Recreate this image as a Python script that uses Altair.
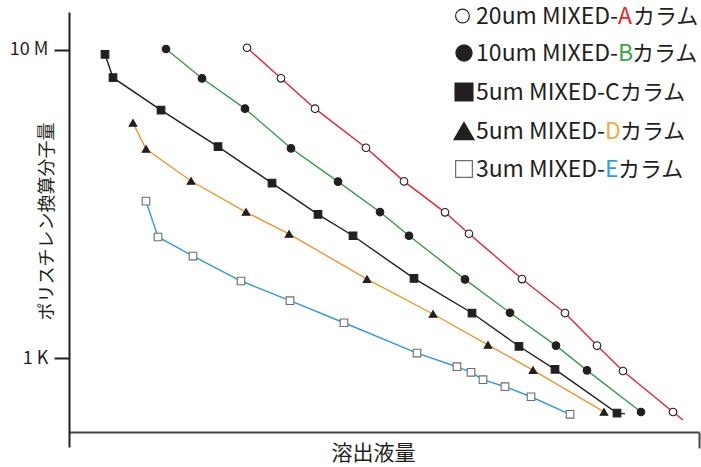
import altair as alt
import pandas as pd

# Calibration curves: elution volume (arbitrary units) vs polystyrene-equivalent molecular weight
a_vol = [17.8, 21.2, 24.6, 29.7, 33.5, 37.6, 40.0, 45.3, 49.6, 52.8, 55.4, 60.4]
a_mw = [1.07e7, 4.29e6, 1.73e6, 5.38e5, 1.97e5, 7.80e4, 4.11e4, 1.06e4, 3.84e3, 1.45e3, 678, 199]

b_vol = [9.7, 13.3, 17.6, 22.2, 26.9, 31.1, 34.0, 39.6, 44.1, 48.7, 51.8, 57.2]
b_mw = [1.03e7, 4.29e6, 1.73e6, 5.29e5, 1.95e5, 7.87e4, 3.87e4, 1.05e4, 3.87e3, 1.45e3, 692, 199]

c_vol = [3.6, 4.4, 9.2, 14.9, 20.3, 24.9, 28.4, 34.5, 40.3, 45.0, 48.6, 54.8]
c_mw = [8.80e6, 4.37e6, 1.66e6, 5.55e5, 1.87e5, 7.35e4, 3.87e4, 1.08e4, 3.84e3, 1.42e3, 713, 193]

d_vol = [6.4, 7.7, 12.2, 17.7, 22.0, 29.8, 36.4, 41.9, 46.4, 53.5]
d_mw = [1.13e6, 5.18e5, 1.99e5, 7.87e4, 4.08e4, 1.06e4, 3.73e3, 1.48e3, 698, 200]

e_vol = [7.7, 8.9, 12.4, 17.2, 22.1, 27.5, 34.8, 38.8, 40.2, 41.4, 43.6, 46.2, 50.1]
e_mw = [1.09e5, 3.73e4, 2.11e4, 1.0e4, 5.55e3, 2.87e3, 1.16e3, 771, 652, 523, 424, 314, 186]

# where the drawn curve runs on a little past the last standard
tails = {"A": (61.4, 157), "C": (55.6, 188)}

series = ["A", "B", "C", "D", "E"]
line_colors = ["#e3262b", "#3a9b48", "#231f20", "#f0952b", "#2e9cd8"]
marker_shapes = ["circle", "circle", "square", "triangle-up", "square"]
marker_fills = ["#ffffff", "#231f20", "#231f20", "#231f20", "#ffffff"]
marker_strokes = ["#231f20", "#231f20", "#231f20", "#231f20", "#6d6d6d"]

# legend rows
leg_prefix = ["20um MIXED-", "10um MIXED-", "5um MIXED-", "5um MIXED-", "3um MIXED-"]
leg_letter = ["A", "B", "C", "D", "E"]
leg_letter_color = ["#e8232a", "#3aa846", "#231f20", "#f4ac44", "#2a9ee0"]
leg_suffix = ["カラム"] * 5

FONT = "Noto Sans CJK JP"
INK = "#231f20"

pts = []
for s, vols, mws in zip(series, [a_vol, b_vol, c_vol, d_vol, e_vol], [a_mw, b_mw, c_mw, d_mw, e_mw]):
    for i, (v, m) in enumerate(zip(vols, mws)):
        pts.append({"series": s, "vol": v, "mw": m, "order": i})
points = pd.DataFrame(pts)

line_rows = pts.copy()
for s, (v, m) in tails.items():
    line_rows.append({"series": s, "vol": v, "mw": m, "order": 99})
lines_df = pd.DataFrame(line_rows)

x_enc = alt.X(
    "vol:Q",
    scale=alt.Scale(domain=[0, 63], nice=False, zero=False),
    axis=alt.Axis(
        values=[63], labels=False, grid=False, offset=-15,
        tickSize=16, tickWidth=2, tickColor="#444444",
        domainWidth=2, domainColor="#444444",
        title="溶出液量", titleFont=FONT, titleFontSize=21, titleFontWeight="normal",
        titleColor=INK, titleX=304, titleY=21, titleAlign="center", titleBaseline="middle",
    ),
)
y_enc = alt.Y(
    "mw:Q",
    scale=alt.Scale(type="log", domain=[69.9, 3.115e7], nice=False, zero=False),
    axis=alt.Axis(
        values=[1e3, 1e7], labelExpr="datum.value >= 1e6 ? '10 M' : '1 K'",
        labelFont=FONT, labelFontSize=18, labelColor=INK, labelPadding=6,
        tickSize=15, tickWidth=2, tickColor=INK, grid=False,
        domainWidth=2, domainColor=INK,
        title="ポリスチレン換算分子量", titleFont=FONT, titleFontSize=18, titleFontWeight="normal",
        titleColor=INK, titleX=-22, titleY=209, titleAngle=270,
        titleAlign="center", titleBaseline="middle",
    ),
)

lines = alt.Chart(lines_df).mark_line(strokeWidth=1.4).encode(
    x=x_enc, y=y_enc,
    color=alt.Color("series:N", scale=alt.Scale(domain=series, range=line_colors), legend=None),
    order="order:Q",
    detail="series:N",
)

markers = alt.Chart(points).mark_point(size=58, opacity=1, filled=True, strokeWidth=1.1).encode(
    x=x_enc, y=y_enc,
    shape=alt.Shape("series:N", scale=alt.Scale(domain=series, range=marker_shapes), legend=None),
    fill=alt.Fill("series:N", scale=alt.Scale(domain=series, range=marker_fills), legend=None),
    stroke=alt.Stroke("series:N", scale=alt.Scale(domain=series, range=marker_strokes), legend=None),
)

# custom legend in the upper right
leg_y = [4, 41, 80, 119, 157]
leg_size = [190, 260, 320, 400, 280]
letter_x = [549, 549, 536, 536, 536]
suffix_x = [564, 563, 551, 551, 549]
legend_df = pd.DataFrame({
    "series": series, "ly": leg_y, "lsize": leg_size,
    "shape": marker_shapes, "fill": marker_fills, "stroke": marker_strokes,
    "prefix": leg_prefix, "letter": leg_letter, "lcolor": leg_letter_color,
    "suffix": leg_suffix, "letter_x": letter_x, "suffix_x": suffix_x,
    "sym_x": [393.5, 395, 395, 395, 395],
})
ly = alt.Y("ly:Q", scale=None, axis=None)

leg_sym = alt.Chart(legend_df).mark_point(opacity=1, filled=True, strokeWidth=1.2).encode(
    x=alt.X("sym_x:Q", scale=None, axis=None), y=ly,
    shape=alt.Shape("shape:N", scale=None),
    fill=alt.Fill("fill:N", scale=None),
    stroke=alt.Stroke("stroke:N", scale=None),
    size=alt.Size("lsize:Q", scale=None),
)
text_props = dict(font=FONT, baseline="middle", dy=1)
leg_prefix_t = alt.Chart(legend_df).mark_text(align="right", color=INK, fontSize=23, **text_props).encode(
    x=alt.X("letter_x:Q", scale=None, axis=None), y=ly, text="prefix:N",
)
leg_letter_t = alt.Chart(legend_df).mark_text(align="left", fontSize=23, **text_props).encode(
    x=alt.X("letter_x:Q", scale=None, axis=None), y=ly, text="letter:N",
    color=alt.Color("lcolor:N", scale=None),
)
leg_suffix_t = alt.Chart(legend_df).mark_text(align="left", color=INK, fontSize=22, **text_props).encode(
    x=alt.X("suffix_x:Q", scale=None, axis=None), y=ly, text="suffix:N",
)

chart = alt.layer(lines, markers, leg_sym, leg_prefix_t, leg_letter_t, leg_suffix_t).properties(
    width=630, height=435,
    autosize=alt.AutoSizeParams(type="none"),
    padding={"left": 69, "top": 12, "right": 2, "bottom": 20},
    background="#ffffff",
).configure_view(stroke=None)

chart.save("out.html", embed_options={"renderer": "svg", "actions": False})
